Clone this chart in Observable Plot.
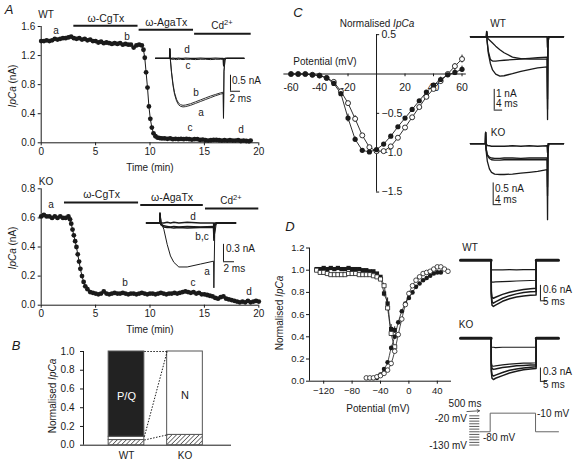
<!DOCTYPE html>
<html><head><meta charset="utf-8">
<script src="https://cdn.jsdelivr.net/npm/d3@7"></script>
<script src="https://cdn.jsdelivr.net/npm/@observablehq/plot@0.6"></script>
<style>
body{margin:0;background:#fff;}
#fig{position:relative;width:573px;height:462px;overflow:hidden;font-family:"Liberation Sans",Arial,Helvetica,sans-serif;color:#1a1a1a;background:#fff;}
.lab{position:absolute;font-size:10px;line-height:1;white-space:nowrap;transform:translate(-50%,-50%);}
.lab.l{transform:translate(0,-50%);}
.lab.r{transform:translate(-100%,-50%);}
.lab.rot{transform:translate(-50%,-50%) rotate(-90deg);}
.lab.pl{font-size:13px;font-style:italic;}
.lab sup{font-size:75%;vertical-align:0.5em;line-height:0;}
</style></head><body><div id="fig"></div>
<script>
// ---------------- DATA ----------------
// Panel A, WT time course
const wtTime = [0,0.25,0.5,0.75,1,1.25,1.5,1.75,2,2.25,2.5,2.75,3,3.25,3.5,3.75,4,4.25,4.5,4.75,5,5.25,5.5,5.75,6,6.25,6.5,6.75,7,7.25,7.5,7.75,8,8.25,8.5,8.75,9,9.25,
  9.4,9.52,9.64,9.77,9.9,10.03,10.17,10.32,10.5,10.7,10.9,
  11.1,11.35,11.6,11.85,12.1,12.35,12.6,12.85,13.1,13.35,13.6,13.85,14.1,14.35,14.6,14.85,15.1,15.35,15.6,15.85,16.1,16.35,16.6,16.85,17.1,17.35,17.6,17.85,18.1,18.35,18.6,18.85,19.1,19.25];
const wtCurrent = [1.40,1.40,1.41,1.40,1.41,1.43,1.42,1.43,1.44,1.44,1.45,1.46,1.44,1.43,1.44,1.42,1.43,1.41,1.42,1.40,1.40,1.38,1.39,1.37,1.38,1.37,1.36,1.37,1.36,1.37,1.35,1.36,1.35,1.35,1.31,1.34,1.35,1.34,
  1.28,1.17,0.97,0.76,0.50,0.33,0.21,0.13,0.09,0.07,0.065,
  0.06,0.06,0.055,0.06,0.05,0.055,0.05,0.055,0.05,0.055,0.05,0.045,0.05,0.05,0.04,0.045,0.035,0.03,0.035,0.04,0.04,0.035,0.03,0.035,0.03,0.035,0.03,0.03,0.035,0.025,0.03,0.025,0.02,0.03];
// Panel A, KO time course
const koTime = [0,0.25,0.5,0.75,1,1.25,1.5,1.75,2,2.25,2.5,
  2.65,2.76,2.88,3.0,3.12,3.24,3.36,3.48,3.6,3.75,3.9,4.05,4.25,4.5,4.75,
  5,5.25,5.5,5.75,6,6.25,6.5,6.75,7,7.25,7.5,7.75,8,8.25,8.5,8.75,9,9.25,9.5,9.75,
  10,10.25,10.5,10.75,11,11.25,11.5,11.75,12,12.25,12.5,12.75,13,13.25,13.5,13.75,14,14.25,14.5,14.75,
  15,15.25,15.5,15.75,16,16.25,16.5,16.75,17,17.25,17.5,17.75,18,18.25,18.5,18.75,19,19.25,19.5,19.75,20];
const koCurrent = [0.61,0.62,0.61,0.61,0.60,0.61,0.60,0.61,0.60,0.60,0.61,
  0.59,0.56,0.52,0.48,0.44,0.40,0.35,0.30,0.25,0.20,0.16,0.13,0.11,0.09,0.085,
  0.08,0.075,0.08,0.095,0.08,0.075,0.08,0.085,0.08,0.08,0.085,0.08,0.075,0.08,0.08,0.075,0.08,0.085,0.08,0.075,
  0.08,0.08,0.075,0.08,0.085,0.08,0.075,0.08,0.08,0.085,0.08,0.085,0.09,0.095,0.09,0.085,0.09,0.08,0.085,0.075,
  0.075,0.07,0.065,0.06,0.05,0.045,0.055,0.06,0.045,0.04,0.035,0.03,0.025,0.02,0.025,0.02,0.03,0.02,0.025,0.03,0.025];
// Drug applications (min) and bar levels (nA)
const drugNames = ["ω-CgTx","ω-AgaTx","Cd2+"];
const wtDrugStart = [3.0, 9.0, 14.1], wtDrugEnd = [8.9, 14.0, 19.3], wtDrugLevel = [1.61, 1.555, 1.50];
const koDrugStart = [2.14, 9.15, 15.1], koDrugEnd = [8.95, 14.9, 20.0], koDrugLevel = [0.706, 0.688, 0.665];
// Panel A insets: current traces (ms, nA)
const insWtT = [0,2.8,2.85,2.95,3.2,3.5,3.8,4.2,4.6,5.0,5.5,6.0,7,8,9,10,11,12,13,13.55,13.6,13.7,13.9,14.2,17.7];
const insWtA = [0,0,0.3,0,-0.45,-0.85,-1.12,-1.33,-1.45,-1.5,-1.52,-1.51,-1.47,-1.41,-1.35,-1.29,-1.23,-1.17,-1.12,-1.1,-1.88,-0.4,-0.05,0,0];
const insWtB = [0,0,0.3,0,-0.42,-0.8,-1.07,-1.28,-1.4,-1.45,-1.47,-1.46,-1.42,-1.36,-1.3,-1.24,-1.18,-1.13,-1.08,-1.06,-1.85,-0.4,-0.05,0,0];
const insWtC = [0,0,0.28,-0.02,-0.03,-0.03,-0.03,-0.04,-0.03,-0.03,-0.04,-0.03,-0.03,-0.04,-0.03,-0.03,-0.04,-0.03,-0.03,-0.03,-0.25,-0.05,0,0,0];
const insWtD = [0,0,0.3,0,0,0.01,0,0,0.01,0,0,0.01,0,0,0.01,0,0,0.01,0,0,-0.2,-0.02,0,0,0];
const insWtBar = {t: 15, i: -1.03, dt: 2, di: 0.5};
const insKoT = [0,2.4,2.45,2.6,3.15,3.76,4.36,4.97,5.88,7.4,9.8,12.2,12.25,12.4,12.7,16.2];
const insKoA = [0,0,0.18,0.02,-0.11,-0.37,-0.57,-0.68,-0.76,-0.76,-0.71,-0.66,-1.12,-0.2,0,0];
const insKoB = [0,0,0.15,-0.02,-0.05,-0.06,-0.07,-0.06,-0.07,-0.06,-0.07,-0.06,-0.25,-0.05,0,0];
const insKoC = [0,0,0.15,-0.03,-0.07,-0.08,-0.08,-0.09,-0.08,-0.09,-0.08,-0.08,-0.3,-0.05,0,0];
const insKoD = [0,0,0.16,0,0,0.01,0,0.01,0,0.01,0,0,-0.1,0,0,0];
const insKoBar = {t: 14, i: -0.67, dt: 2, di: 0.3};
// Panel B
const bGroups = ["WT","KO"];
const bResistant = [0.055, 0.11];
const bNtype = [0.035, 0.89];
const bPQ = [0.91, 0];
const bNames = ["P/Q","N"];
// Panel C: I-V
const cV = [-60,-55,-50,-45,-40,-35,-30,-25,-20,-15,-10,-5,0,5,10,15,20,25,30,35,40,45,50,55,60];
const cFilled = [0,0,0,-0.01,-0.02,-0.05,-0.12,-0.25,-0.56,-0.83,-0.97,-0.99,-0.96,-0.89,-0.79,-0.67,-0.56,-0.45,-0.34,-0.23,-0.14,-0.07,-0.01,0.02,0.06];
const cOpen = [0,0,0,-0.01,-0.02,-0.05,-0.1,-0.22,-0.37,-0.57,-0.78,-0.93,-0.98,-0.98,-0.92,-0.81,-0.68,-0.55,-0.42,-0.29,-0.19,-0.09,0,0.1,0.19];
const cFilledErr = [0,0,0,0,0,0,0,0,0.05,0.03,0,0,0,0,0,0,0,0,0,0,0.02,0.03,0.02,0.04,0.04];
const cOpenErr = [0,0,0,0,0,0,0,0,0,0.04,0,0,0,0,0,0,0,0,0,0.03,0.03,0.04,0.02,0.03,0.05];
const cTicksX = [-60,-40,-20,20,40,60];
const cTicksY = [0.5,-0.5,-1.0,-1.5];
// Panel C traces (ms, nA)
const cWtT = [0,7.6,7.7,7.9,8.5,9.5,10.5,12,14,16,20,24,28,32,36.5,36.7,36.9,37.3,44.3];
const cWt0 = [0,0,0.25,0,0,0,0,0,0,0,0,0,0,0,0,-0.5,0,0,0];
const cWt1 = [0,0,0.25,-0.2,-0.8,-1.3,-1.6,-1.8,-1.9,-1.88,-1.78,-1.67,-1.58,-1.5,-1.45,-4.0,-0.3,0,0];
const cWt2 = [0,0,0.25,-0.2,-0.7,-1.1,-1.17,-1.17,-1.15,-1.13,-1.1,-1.07,-1.04,-1.01,-0.98,-3.5,-0.3,0,0];
const cWt3 = [0,0,0.2,0,-0.1,-0.2,-0.3,-0.45,-0.62,-0.77,-0.98,-1.05,-1.07,-1.08,-1.08,-3.0,-0.3,0,0];
const cWtBar = {t: 11.3, i: -3.54, dt: 4, di: 1};
const cKoT = [0,7.1,7.2,7.4,8.0,9.0,10.0,11.5,14,16,20,24,28,32,36.5,36.7,36.9,37.3,44.3];
const cKo0 = [0,0,0.26,0,-0.04,-0.05,-0.06,-0.06,-0.06,-0.06,-0.05,-0.06,-0.05,-0.06,-0.05,-0.2,0,0,0];
const cKo1 = [0,0,0.26,-0.1,-0.25,-0.31,-0.33,-0.34,-0.34,-0.33,-0.33,-0.34,-0.33,-0.33,-0.33,-1.0,-0.1,0,0];
const cKo2 = [0,0,0.26,-0.1,-0.27,-0.34,-0.37,-0.38,-0.38,-0.37,-0.37,-0.37,-0.37,-0.37,-0.37,-1.2,-0.1,0,0];
const cKo3 = [0,0,0.26,-0.15,-0.4,-0.58,-0.66,-0.7,-0.71,-0.71,-0.7,-0.68,-0.66,-0.64,-0.6,-1.75,-0.2,0,0];
const cKoBar = {t: 10.8, i: -1.405, dt: 4, di: 0.5};
// Panel D: activation / inactivation
const dSqV = [-130,-125,-120,-115,-110,-105,-100,-95,-90,-85,-80,-75,-70,-65,-60,-55,-50,-45,-40,-35,-30,-25,-20];
const dSqOpen = [1.00,0.98,0.98,0.97,0.96,0.96,0.96,0.96,0.96,0.97,0.97,0.97,0.96,0.96,0.96,0.96,0.95,0.94,0.92,0.86,0.66,0.43,0.31];
const dSqFilled = [1.01,1.01,1.02,1.01,1.02,1.01,1.02,1.01,1.01,1.02,1.01,1.01,1.01,1.00,1.00,0.99,0.99,0.97,0.94,0.79,0.70,0.47,0.46];
const dSqFilledErr = [0,0,0,0,0,0,0,0,0,0,0,0,0,0,0,0,0,0,0,0.03,0.05,0.04,0.03];
const dCircV = [-60,-55,-50,-45,-40,-35,-30,-25,-20,-15,-10,-5,0,5,10,15,20,25,30,35,40,45,50,55];
const dCircOpen = [0.03,0.03,0.03,0.04,0.05,0.07,0.10,0.16,0.27,0.42,0.56,0.69,0.79,0.86,0.91,0.94,0.97,0.98,0.99,1.01,1.03,1.03,1.01,0.99];
const dCircFV = [-45,-40,-35,-30,-25,-20,-15,-10,-5,0,5,10,15,20,25,30,35,40,45];
const dCircFilled = [0.03,0.06,0.11,0.17,0.30,0.40,0.53,0.63,0.70,0.75,0.80,0.85,0.88,0.91,0.93,0.95,0.97,0.98,0.98];
// Panel D traces (ms, nA)
const dT = [0,21.9,22.0,22.5,23.5,25,30,35,40,45,50,54,54.1,54.6,70];
const dBase = [0,0,null,null,null,null,null,null,null,null,null,null,0,0,0];
const dWt = [
  [0,0,-0.38,-0.38,-0.38,-0.38,-0.38,-0.37,-0.38,-0.37,-0.37,-0.37,0,0,0],
  [0,0,-0.82,-0.85,-0.85,-0.84,-0.83,-0.82,-0.81,-0.8,-0.79,-0.78,0,0,0],
  [0,0,-1.2,-1.45,-1.48,-1.44,-1.33,-1.25,-1.19,-1.14,-1.11,-1.09,0,0,0],
  [0,0,-1.3,-1.62,-1.67,-1.62,-1.48,-1.38,-1.31,-1.26,-1.23,-1.22,0,0,0],
  [0,0,-1.4,-1.75,-1.8,-1.75,-1.6,-1.5,-1.43,-1.39,-1.36,-1.35,0,0,0]];
const dKo = [
  [0,0,-0.2,-0.2,-0.2,-0.21,-0.2,-0.2,-0.2,-0.2,-0.2,-0.2,0,0,0],
  [0,0,-0.55,-0.62,-0.63,-0.62,-0.6,-0.58,-0.57,-0.56,-0.56,-0.55,0,0,0],
  [0,0,-0.6,-0.68,-0.7,-0.69,-0.66,-0.64,-0.62,-0.61,-0.6,-0.6,0,0,0],
  [0,0,-0.7,-0.82,-0.85,-0.83,-0.77,-0.72,-0.69,-0.67,-0.65,-0.64,0,0,0],
  [0,0,-0.75,-0.9,-0.93,-0.9,-0.84,-0.78,-0.74,-0.71,-0.69,-0.68,0,0,0]];
const dWtBar = {t: 57.1, i: -1.58, dt: 5, di: 0.6};
const dKoBar = {t: 57.1, i: -0.97, dt: 5, di: 0.3};
// Voltage protocol (display ms, mV)
const protoCond = [-20,-30,-40,-50,-60,-70,-80,-90,-100,-110,-120,-130];
const protoCondStart = 6.6, protoCondEnd = 13.8;
const protoT = [13.8,21.2,21.2,53.6,53.6,70];
const protoV = [-80,-80,-10,-10,-80,-80];
const protoArrow = {t1: 4.6, v1: -4, t2: 13.6, v2: -1};

// ---------------- DRAWING ----------------
const fig = document.getElementById("fig");
const INK = "#1a1a1a";
const FONT = "Liberation Sans, Arial, Helvetica, sans-serif";
const sty = (fs) => ({background:"transparent", fontFamily: FONT, fontSize: (fs || 10) + "px", color: INK, overflow:"visible"});
function put(svg, left, top){ svg.style.position="absolute"; svg.style.left=left+"px"; svg.style.top=top+"px"; svg.style.maxWidth="none"; fig.appendChild(svg); return svg; }
const zip = (xs, ys) => xs.map((x,i)=>({x, y: ys[i]}));
const drugs = (s,e,l) => drugNames.map((n,i)=>({name:n, start:s[i], end:e[i], level:l[i]}));

function timeCourse({top, height, mTop, mBottom, yDomain, yTicks, times, values, dr}) {
  const data = zip(times, values);
  return put(Plot.plot({
    width: 290, height, marginLeft: 40.7, marginRight: 31.7, marginTop: mTop, marginBottom: mBottom,
    style: sty(),
    x: {domain: [0,20], ticks: [0,5,10,15,20], tickSize: 3, tickPadding: 2, label: null},
    y: {domain: yDomain, ticks: yTicks, tickFormat: d3.format(".1f"), tickSize: 3, tickPadding: 3, label: null},
    marks: [
      Plot.ruleX([0], {stroke: INK}),
      Plot.ruleY([0], {stroke: INK}),
      Plot.line(data, {x:"x", y:"y", stroke: INK, strokeWidth: 1}),
      Plot.dot(data, {x:"x", y:"y", r: 2.4, fill: INK, stroke: "none"}),
      Plot.ruleY(dr, {y:"level", x1:"start", x2:"end", stroke: INK, strokeWidth: 2}),
      Plot.text(dr.slice(0,2), {x: d => (d.start+d.end)/2, y: "level", text: "name", dy: -7.5, fontSize: 10.5, fill: INK})
    ]
  }), 0, top);
}
timeCourse({top:0, height:180, mTop:26, mBottom:37.7, yDomain:[0,1.6], yTicks:[0,0.4,0.8,1.2,1.6], times: wtTime, values: wtCurrent, dr: drugs(wtDrugStart, wtDrugEnd, wtDrugLevel)});
timeCourse({top:160, height:180, mTop:28.3, mBottom:35.3, yDomain:[0,0.8], yTicks:[0,0.2,0.4,0.6,0.8], times: koTime, values: koCurrent, dr: drugs(koDrugStart, koDrugEnd, koDrugLevel)});

function tracePlot({left, top, width, height, xDomain, yDomain, times, traces, widths, bar, base, baseWidth}) {
  const marks = [];
  if (base) marks.push(Plot.line(zip(times, base), {x:"x", y:"y", stroke: INK, strokeWidth: baseWidth || 3}));
  traces.forEach((tr,k) => marks.push(Plot.line(zip(times, tr), {x:"x", y:"y", stroke: INK, strokeWidth: widths ? widths[k] : 1})));
  if (bar) marks.push(
    Plot.ruleX([bar], {x:"t", y1:"i", y2: d => d.i + d.di, stroke: INK, strokeWidth: 1}),
    Plot.ruleY([bar], {y:"i", x1:"t", x2: d => d.t + d.dt, stroke: INK, strokeWidth: 1}));
  return put(Plot.plot({width, height, margin: 0, style: sty(),
    x: {domain: xDomain, axis: null}, y: {domain: yDomain, axis: null}, marks}), left, top);
}
// A insets
tracePlot({left:155, top:45.2, width:90, height:76.8, xDomain:[0,18], yDomain:[-2.0,0.4], times: insWtT,
  traces:[insWtD, insWtC, insWtB, insWtA], widths:[1.2,1,0.9,0.9], bar: insWtBar});
tracePlot({left:146, top:204.6, width:89.1, height:87, xDomain:[0,16.2], yDomain:[-1.2,0.3], times: insKoT,
  traces:[insKoD, insKoB, insKoC, insKoA], widths:[1.5,1.5,1.5,1], bar: insKoBar});

// Panel B
{
  const half = 0.305;
  const segs = [];
  bGroups.forEach((g,i) => {
    const r = bResistant[i], n = bNtype[i], p = bPQ[i];
    segs.push({g:i, y1:0, y2:r, kind:"hatch"});
    segs.push({g:i, y1:r, y2:r+n, kind:"white"});
    if (p > 0) segs.push({g:i, y1:r+n, y2:r+n+p, kind:"black"});
  });
  const names = bNames.map((n,i) => {
    const s = bPQ[i] > 0 ? segs.find(d => d.g===i && d.kind==="black") : segs.find(d => d.g===i && d.kind==="white");
    return {g:i, y:(s.y1+s.y2)/2 - 0.02, text:n, fill: bPQ[i] > 0 ? "white" : INK};
  });
  const links = [
    {y1: bResistant[0]+bNtype[0]+bPQ[0], y2: bResistant[1]+bNtype[1]+bPQ[1]},
    {y1: bResistant[0]+bNtype[0], y2: bResistant[1]+bNtype[1]+bPQ[1]},
    {y1: bResistant[0], y2: bResistant[1]}];
  const rectOpts = (fill) => ({x1: d => d.g - half, x2: d => d.g + half, y1:"y1", y2:"y2", fill, stroke:"#555", strokeWidth: 1});
  const svgB = Plot.plot({
    width: 200, height: 122, marginLeft: 43, marginRight: 9, marginTop: 11, marginBottom: 17.3,
    style: sty(),
    x: {domain: [-0.735, 1.795], ticks: [0,1], tickFormat: i => bGroups[i], tickSize: 0, tickPadding: 7, label: null},
    y: {domain: [0,1], ticks: [0,0.2,0.4,0.6,0.8,1.0], tickFormat: d3.format(".1f"), tickSize: 3, label: null},
    marks: [
      Plot.ruleX([-0.735], {stroke: INK}),
      Plot.ruleY([0], {stroke: INK}),
      Plot.rect(segs.filter(d => d.kind==="hatch"), rectOpts("url(#hatchB)")),
      Plot.rect(segs.filter(d => d.kind==="white"), rectOpts("white")),
      Plot.rect(segs.filter(d => d.kind==="black"), rectOpts("#222")),
      Plot.link(links, {x1: half, x2: 1 - half, y1:"y1", y2:"y2", stroke: INK, strokeWidth: 1, strokeDasharray: "1.5,1.5"}),
      Plot.text(names, {x:"g", y:"y", text:"text", fill:"fill", fontSize: 11})
    ]
  });
  const defs = d3.select(svgB).insert("defs", ":first-child");
  const pat = defs.append("pattern").attr("id","hatchB").attr("patternUnits","userSpaceOnUse")
    .attr("width",3.2).attr("height",3.2).attr("patternTransform","rotate(45)");
  pat.append("rect").attr("width",3.2).attr("height",3.2).attr("fill","white");
  pat.append("line").attr("x1",0).attr("y1",0).attr("x2",0).attr("y2",3.2).attr("stroke","#333").attr("stroke-width",1.3);
  put(svgB, 40, 340);
}

// Panel C I-V
{
  const f = cV.map((v,i) => ({v, i: cFilled[i], e: cFilledErr[i]}));
  const o = cV.map((v,i) => ({v, i: cOpen[i], e: cOpenErr[i]}));
  put(Plot.plot({
    width: 200, height: 185, marginLeft: 13.4, marginRight: 4.2, marginTop: 14.15, marginBottom: 13.45,
    style: sty(),
    x: {domain: [-65, 63], axis: null}, y: {domain: [-1.5, 0.5], axis: null},
    marks: [
      Plot.ruleX([0], {stroke: INK}),
      Plot.ruleY([0], {stroke: INK}),
      Plot.ruleX(cTicksX, {x: d => d, y1: 0, y2: -0.035, stroke: INK}),
      Plot.text(cTicksX, {x: d => d, y: 0, dy: 14, text: d => String(d), fill: INK, fontSize: 10.5}),
      Plot.ruleY(cTicksY, {y: d => d, x1: 0, x2: 2.2, stroke: INK}),
      Plot.text(cTicksY, {x: 0, y: d => d, dx: 5, textAnchor: "start", text: d3.format(".1f"), fill: INK, fontSize: 10.5}),
      Plot.ruleX(f.filter(d => d.e > 0), {x:"v", y1: d => d.i - d.e, y2: d => d.i + d.e, stroke: INK}),
      Plot.ruleX(o.filter(d => d.e > 0), {x:"v", y1: d => d.i - d.e, y2: d => d.i + d.e, stroke: INK}),
      Plot.line(f, {x:"v", y:"i", stroke: INK, strokeWidth: 0.9}),
      Plot.line(o, {x:"v", y:"i", stroke: INK, strokeWidth: 0.9}),
      Plot.dot(o, {x:"v", y:"i", r: 2.5, fill: "white", stroke: INK, strokeWidth: 0.9}),
      Plot.dot(f, {x:"v", y:"i", r: 2.6, fill: INK, stroke: "none"})
    ]
  }), 270, 20);
}
// Panel C traces
tracePlot({left:470, top:25.65, width:93, height:95.2, xDomain:[0,44.3], yDomain:[-4.1,0.5], times: cWtT,
  traces:[cWt0, cWt3, cWt2, cWt1], widths:[1.6,1.3,1.3,1.3], bar: cWtBar});
tracePlot({left:470, top:127.5, width:93, height:93.3, xDomain:[0,44.3], yDomain:[-1.8,0.35], times: cKoT,
  traces:[cKo0, cKo1, cKo2, cKo3], widths:[1.5,1.3,1.3,1.3], bar: cKoBar});

// Panel D main
{
  const sqO = zip(dSqV, dSqOpen);
  const sqF = dSqV.map((v,i) => ({x: v, y: dSqFilled[i], e: dSqFilledErr[i]}));
  const ciO = zip(dCircV, dCircOpen), ciF = zip(dCircFV, dCircFilled);
  put(Plot.plot({
    width: 200, height: 180, marginLeft: 49, marginRight: 9, marginTop: 12.5, marginBottom: 34.3,
    style: sty(9.5),
    x: {domain: [-140, 60], ticks: [-120,-80,-40,0,40], tickSize: 3, tickPadding: 3, label: null},
    y: {domain: [0, 1.2], ticks: [0,0.2,0.4,0.6,0.8,1.0,1.2], tickFormat: d3.format(".1f"), tickSize: 3, tickPadding: 2, label: null},
    marks: [
      Plot.ruleX([-140], {stroke: INK}),
      Plot.ruleY([0], {stroke: INK}),
      Plot.ruleX(sqF.filter(d => d.e > 0), {x:"x", y1: d => d.y - d.e, y2: d => d.y + d.e, stroke: INK}),
      Plot.line(sqF, {x:"x", y:"y", stroke: INK, strokeWidth: 0.8, curve: "monotone-x"}),
      Plot.line(sqO, {x:"x", y:"y", stroke: INK, strokeWidth: 0.8, curve: "monotone-x"}),
      Plot.line(ciF, {x:"x", y:"y", stroke: INK, strokeWidth: 0.8, curve: "monotone-x"}),
      Plot.line(ciO, {x:"x", y:"y", stroke: INK, strokeWidth: 0.8, curve: "monotone-x"}),
      Plot.dot(sqF, {x:"x", y:"y", symbol: "square", r: 2.4, fill: INK, stroke: "none"}),
      Plot.dot(sqO, {x:"x", y:"y", symbol: "square", r: 2.3, fill: "white", stroke: INK, strokeWidth: 0.8}),
      Plot.dot(ciF, {x:"x", y:"y", r: 2.3, fill: INK, stroke: "none"}),
      Plot.dot(ciO, {x:"x", y:"y", r: 2.3, fill: "white", stroke: INK, strokeWidth: 0.8})
    ]
  }), 260, 235);
}
// Panel D traces
tracePlot({left:460, top:252.3, width:98, height:59.1, xDomain:[0,70], yDomain:[-2,0.3], times: dT,
  traces: dWt, widths:[1.2,1.2,1.5,1.5,1.5], bar: dWtBar, base: dBase, baseWidth: 3});
tracePlot({left:460, top:329.4, width:98, height:55.4, xDomain:[0,70], yDomain:[-1.05,0.2], times: dT,
  traces: dKo, widths:[1.2,1.2,1.5,1.5,1.5], bar: dKoBar, base: dBase, baseWidth: 3});
// Voltage protocol
put(Plot.plot({
  width: 98, height: 35.9, margin: 0, style: sty(),
  x: {domain: [0,70], axis: null}, y: {domain: [-135, 0], axis: null},
  marks: [
    Plot.ruleY(protoCond, {y: d => d, x1: protoCondStart, x2: protoCondEnd, stroke: "#333", strokeWidth: 0.8}),
    Plot.line(zip(protoT, protoV), {x:"x", y:"y", stroke: "#666", strokeWidth: 1}),
    Plot.arrow([protoArrow], {x1:"t1", y1:"v1", x2:"t2", y2:"v2", stroke: "#333", strokeWidth: 0.8, headLength: 5, bend: 0})
  ]
}), 460, 410.4);

// ---------------- TEXT LABELS ----------------
const labels = [
  ["A",9,9,"pl"], ["WT",46,15], ["a",56,31], ["b",127,37], ["c",190,128], ["d",241,130],
  ["d",187,50], ["c",188,66], ["b",196,93], ["a",201,113],
  ["0.5 nA",232,81,"l"], ["2 ms",229.5,98.5,"l"], ["Cd<sup>2+</sup>",222,26],
  ["<i>IpCa</i> (nA)",13,86,"rot"], ["Time (min)",150,168],
  ["KO",46,182], ["a",51,205], ["b",125,283], ["c",193,283], ["d",249,292],
  ["d",193,217], ["b,c",202,237], ["a",207,272],
  ["0.3 nA",226,249,"l"], ["2 ms",223.5,269,"l"], ["Cd<sup>2+</sup>",231,201],
  ["<i>IpCa</i> (nA)",13,248,"rot"], ["Time (min)",150,330],
  ["B",16,345,"pl"], ["Normalised <i>IpCa</i>",53,396,"rot"],
  ["C",298,12,"pl"], ["Normalised <i>IpCa</i>",377,24], ["Potential (mV)",325,62],
  ["WT",498,24], ["1 nA",496,93.5,"l"], ["4 ms",496,103.7,"l"],
  ["KO",498,133], ["0.5 nA",495,188.5,"l"], ["4 ms",495,199.5,"l"],
  ["D",290,226,"pl"], ["Normalised <i>IpCa</i>",280,313,"rot"], ["Potential (mV)",378,409],
  ["WT",470,248], ["KO",466,325],
  ["0.6 nA",543,290,"l"], ["5 ms",543,302,"l"], ["0.3 nA",543,372,"l"], ["5 ms",543,385,"l"],
  ["500 ms",465,404], ["-20 mV",467,419,"r"], ["-130 mV",467,446,"r"], ["-80 mV",483,438,"l"], ["-10 mV",537,414,"l"]
];
labels.forEach(([html,x,y,cls]) => {
  const d = document.createElement("div");
  d.className = "lab" + (cls ? " " + cls : "");
  d.innerHTML = html;
  d.style.left = x + "px"; d.style.top = y + "px";
  fig.appendChild(d);
});
</script>
</body></html>
